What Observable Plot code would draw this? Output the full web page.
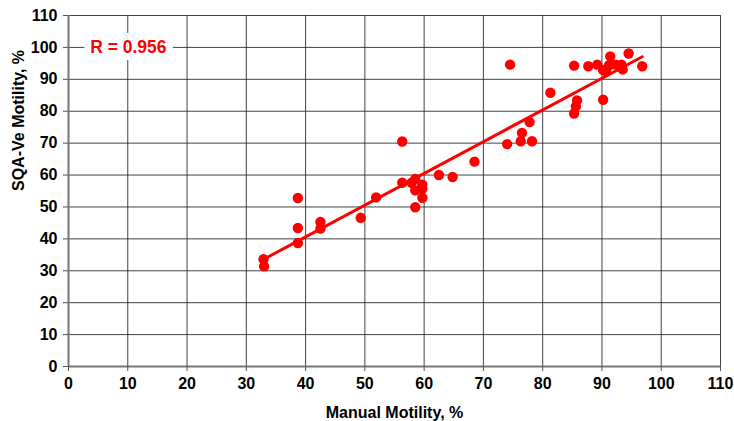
<!DOCTYPE html>
<html>
<head>
<meta charset="utf-8">
<script src="https://cdn.jsdelivr.net/npm/d3@7"></script>
<script src="https://cdn.jsdelivr.net/npm/@observablehq/plot@0.6"></script>
<style>
  html, body { margin: 0; padding: 0; background: #fff; }
  #chart svg { display: block; }
  #chart svg [aria-label$="label"] text { font-size: 16px; }
</style>
</head>
<body>
<div id="chart"></div>
<script>
const manual = [32.9, 33.0, 38.7, 38.7, 38.7, 42.5, 42.5, 49.3, 51.9, 56.3, 56.3, 57.9, 58.5, 58.5, 58.5, 59.7, 59.7, 59.7, 62.5, 64.8, 68.5, 74.0, 74.5, 76.3, 76.5, 77.8, 78.2, 81.3, 85.3, 85.3, 85.6, 85.8, 87.7, 89.2, 90.2, 90.2, 90.7, 91.2, 91.4, 92.3, 93.3, 93.5, 94.5, 96.8];
const sqa = [33.6, 31.4, 52.8, 43.4, 38.7, 45.3, 43.2, 46.6, 53.0, 70.5, 57.6, 57.6, 58.8, 55.2, 49.9, 57.0, 55.7, 52.9, 60.0, 59.4, 64.2, 69.7, 94.6, 70.6, 73.2, 76.6, 70.6, 85.8, 94.3, 79.3, 81.5, 83.4, 94.1, 94.6, 83.6, 92.9, 92.5, 94.4, 97.2, 94.6, 94.6, 93.1, 98.1, 94.1];
const ticks = [0, 10, 20, 30, 40, 50, 60, 70, 80, 90, 100, 110];
const rLabel = ["R = 0.956"];
const xTitle = "Manual Motility, %";
const yTitle = "SQA-Ve Motility, %";

const data = manual.map((m, i) => ({manual: m, sqa: sqa[i]}));

const chart = Plot.plot({
  width: 734,
  height: 421,
  marginLeft: 68,
  marginRight: 14,
  marginTop: 15,
  marginBottom: 55,
  style: {fontFamily: "'Liberation Sans', Arial, sans-serif", fontSize: "13px", fontWeight: "bold", color: "#000", background: "#fff"},
  x: {domain: [0, 110]},
  y: {domain: [0, 110]},
  marks: [
    Plot.gridX(ticks, {stroke: "#222", strokeOpacity: 0.85, strokeWidth: 1}),
    Plot.gridY(ticks, {stroke: "#222", strokeOpacity: 0.85, strokeWidth: 1}),
    Plot.ruleX([0], {stroke: "#777", strokeWidth: 2}),
    Plot.ruleY([0], {stroke: "#777", strokeWidth: 2}),
    Plot.axisX({ticks, tickSize: 5, tickPadding: 6, stroke: "#555", label: null, fontSize: 13, fontWeight: "bold"}),
    Plot.axisY({ticks, tickSize: 5, tickPadding: 6, stroke: "#555", label: null, fontSize: 13, fontWeight: "bold"}),
    Plot.text([xTitle], {frameAnchor: "bottom", text: d => d, dy: 51, fontSize: 16, fontWeight: "bold", fill: "#000", lineAnchor: "bottom"}),
    Plot.text([yTitle], {frameAnchor: "left", text: d => d, dx: -50, rotate: -90, fontSize: 16, fontWeight: "bold", fill: "#000", lineAnchor: "middle"}),
    Plot.text(rLabel, {x: 10.1, y: 100, text: d => d, fill: "#ff0000", stroke: "#fff", strokeWidth: 14, fontSize: 17.5, fontWeight: "bold", textAnchor: "middle"}),
    Plot.linearRegressionY(data, {x: "manual", y: "sqa", stroke: "#ff0000", strokeWidth: 3, ci: 0}),
    Plot.dot(data, {x: "manual", y: "sqa", r: 5.2, fill: "#ff0000", stroke: "none"})
  ]
});
document.getElementById("chart").appendChild(chart);
</script>
</body>
</html>
